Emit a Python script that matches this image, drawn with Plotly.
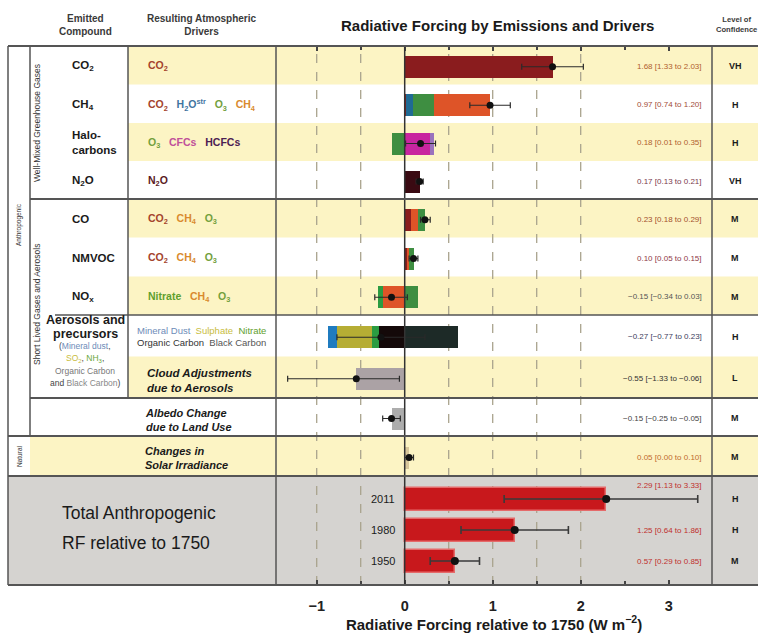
import plotly.graph_objects as go

# ---------------- data ----------------
row_names = ["CO2", "CH4", "Halocarbons", "N2O", "CO", "NMVOC", "NOx",
             "Aerosols and precursors", "Cloud adjustments", "Albedo change", "Solar irradiance"]

# drivers of each row, in left-to-right stacking order, with their forcing (W m-2)
stack_drivers = [
    ["CO2"],
    ["CO2", "H2Ostr", "O3", "CH4"],
    ["O3", "CFCs", "HCFCs"],
    ["N2O"],
    ["CO2", "CH4", "O3"],
    ["CO2", "CH4", "O3"],
    ["Nitrate", "CH4", "O3"],
    ["Mineral Dust", "Sulphate", "Nitrate", "Organic Carbon", "Black Carbon"],
    ["Cloud"],
    ["Albedo"],
    ["Solar"],
]
stack_values = [
    [1.68],
    [0.02, 0.07, 0.24, 0.64],
    [-0.15, 0.29, 0.04],
    [0.17],
    [0.07, 0.08, 0.08],
    [0.03, 0.02, 0.05],
    [-0.05, -0.25, 0.15],
    [-0.10, -0.40, -0.08, -0.29, 0.60],
    [-0.55],
    [-0.15],
    [0.05],
]
best_rf = [1.68, 0.97, 0.18, 0.17, 0.23, 0.10, -0.15, -0.27, -0.55, -0.15, 0.05]
low_rf = [1.33, 0.74, 0.01, 0.13, 0.18, 0.05, -0.34, -0.77, -1.33, -0.25, 0.00]
high_rf = [2.03, 1.20, 0.35, 0.21, 0.29, 0.15, 0.03, 0.23, -0.06, -0.05, 0.10]
confidence = ["VH", "H", "H", "VH", "M", "M", "M", "H", "L", "M", "M"]

total_years = ["2011", "1980", "1950"]
total_best = [2.29, 1.25, 0.57]
total_low = [1.13, 0.64, 0.29]
total_high = [3.33, 1.86, 0.85]
total_conf = ["H", "H", "M"]

x_tick_vals = [-1, 0, 1, 2, 3]
x_tick_text = ["\u22121", "0", "1", "2", "3"]
dashed_vals = [-1, -0.5, 0.5, 1, 1.5, 2]

# ---------------- styles ----------------
FONT = "Liberation Sans, Arial, sans-serif"
W, H = 758, 635
bar_color = {
    "CO2": "#8a1c1e", "H2Ostr": "#1f6a94", "O3": "#3e8e41", "CH4": "#de5428",
    "CFCs": "#c8259f", "HCFCs": "#9a72bd", "N2O": "#3a0a12",
    "Mineral Dust": "#1f7bbf", "Sulphate": "#b6ad34", "Nitrate": "#2b9c42",
    "Organic Carbon": "#140909", "Black Carbon": "#1d2a27",
    "Cloud": "#aba2a5", "Albedo": "#adadad", "Solar": "#d8c79c",
}
text_color = {
    "CO2": "#a4432c", "H2Ostr": "#3f74a0", "O3": "#73a03c", "CH4": "#d98a2e",
    "CFCs": "#c0509a", "HCFCs": "#4c2052", "N2O": "#5a1a22",
    "Nitrate": "#5fa02e", "Mineral Dust": "#6d8bb8", "Sulphate": "#c9bd3e",
    "Organic Carbon": "#333333", "Black Carbon": "#555555",
}
driver_html = {
    "CO2": "CO<sub>2</sub>", "H2Ostr": "H<sub>2</sub>O<sup>str</sup>", "O3": "O<sub>3</sub>",
    "CH4": "CH<sub>4</sub>", "CFCs": "CFCs", "HCFCs": "HCFCs", "N2O": "N<sub>2</sub>O",
    "Nitrate": "Nitrate", "Mineral Dust": "Mineral Dust", "Sulphate": "Sulphate",
    "Organic Carbon": "Organic Carbon", "Black Carbon": "Black Carbon",
}
value_color = ["#b0602c", "#a24c38", "#b0602c", "#7a3a4c", "#a4502c", "#8e3a48", "#555555",
               "#3c3c5c", "#333333", "#444444", "#c06a2c"]
YELLOW = "#fcf4c4"
GREY = "#d5d3d0"
LINE = "#555555"

# ---------------- geometry (pixels) ----------------
TOP, BOT = 46, 585
CH_L, CH_R = 276, 712
X0_PX, PX_PER_UNIT = 404.7, 88.0
row_edges = [46, 84.5, 123, 161, 199, 237.5, 276.5, 315, 356.5, 398, 436, 476]
row_mid = [(a + b) / 2 for a, b in zip(row_edges[:-1], row_edges[1:])]
bar_y = [m + 1.5 for m in row_mid]
total_y = [499, 530, 561]
BAR_W = 22


def px(x):
    return x / W


def py(y):
    return 1 - y / H


fig = go.Figure()

# stacked driver bars
segs = {}
for yv, drivers, vals in zip(bar_y, stack_drivers, stack_values):
    start = sum(v for v in vals if v < 0)
    for d, v in zip(drivers, vals):
        s = segs.setdefault(d, {"y": [], "x": [], "base": []})
        s["y"].append(yv)
        s["x"].append(abs(v))
        s["base"].append(start)
        start += abs(v)
for d, s in segs.items():
    fig.add_trace(go.Bar(orientation="h", y=s["y"], x=s["x"], base=s["base"], width=BAR_W,
                         marker=dict(color=bar_color[d], line=dict(width=0)),
                         name=d, showlegend=False, hoverinfo="skip"))

# total anthropogenic bars
fig.add_trace(go.Bar(orientation="h", y=total_y, x=total_best, base=[0] * len(total_best),
                     width=BAR_W + 1,
                     marker=dict(color="#c8181c", line=dict(width=1.5, color="#e56a6a")),
                     showlegend=False, hoverinfo="skip"))

# uncertainty ranges
fig.add_trace(go.Scatter(
    x=best_rf, y=bar_y, mode="markers",
    marker=dict(color="#111111", size=7),
    error_x=dict(type="data", symmetric=False,
                 array=[h - b for h, b in zip(high_rf, best_rf)],
                 arrayminus=[b - l for b, l in zip(best_rf, low_rf)],
                 color="#2a2a2a", thickness=1.2, width=3),
    showlegend=False, hoverinfo="skip"))
fig.add_trace(go.Scatter(
    x=total_best, y=total_y, mode="markers",
    marker=dict(color="#111111", size=8),
    error_x=dict(type="data", symmetric=False,
                 array=[h - b for h, b in zip(total_high, total_best)],
                 arrayminus=[b - l for b, l in zip(total_best, total_low)],
                 color="#3a3a3a", thickness=1.6, width=4),
    showlegend=False, hoverinfo="skip"))

shapes = []


def rect(x0, y0, x1, y1, color):
    shapes.append(dict(type="rect", xref="paper", yref="paper", x0=px(x0), x1=px(x1),
                       y0=py(y0), y1=py(y1), fillcolor=color, line=dict(width=0), layer="below"))


def hline(y, x0, x1, width=2, color=LINE):
    shapes.append(dict(type="line", xref="paper", yref="paper", x0=px(x0), x1=px(x1),
                       y0=py(y), y1=py(y), line=dict(color=color, width=width), layer="above"))


def vline(x, y0, y1, width=2, color=LINE):
    shapes.append(dict(type="line", xref="paper", yref="paper", x0=px(x), x1=px(x),
                       y0=py(y0), y1=py(y1), line=dict(color=color, width=width), layer="above"))


# background bands
for i in [0, 2, 4, 6, 8]:
    rect(128, row_edges[i], W, row_edges[i + 1], YELLOW)
rect(30, row_edges[10], W, row_edges[11], YELLOW)
rect(8, 476, W, BOT, GREY)

# dashed reference lines
for v in dashed_vals:
    shapes.append(dict(type="line", xref="x", yref="paper", x0=v, x1=v,
                       y0=py(BOT), y1=py(TOP), line=dict(color="#aaa48e", width=1.3, dash="dash"),
                       layer="below"))
# zero line
shapes.append(dict(type="line", xref="x", yref="paper", x0=0, x1=0, y0=py(BOT), y1=py(TOP),
                   line=dict(color="#333333", width=1.5), layer="above"))

# table lines
hline(TOP, 8, W, 2.2)
hline(199, 30, W)
hline(315, 55, W, 1.5)
hline(398, 30, W)
hline(436, 8, W)
hline(476, 8, W, 2.2)
hline(BOT, 8, W, 2.2)
vline(8, TOP, BOT, 1.5)
vline(30, TOP, 436, 1.5)
vline(128, TOP, 398, 1.5)
vline(CH_L, TOP, BOT, 1.5)
vline(CH_R, TOP, BOT, 1.5)

annotations = []


def ann(text, x, y, size=9, color="#222222", xanchor="center", angle=0, align="center", **kw):
    annotations.append(dict(text=text, x=px(x), y=py(y), xref="paper", yref="paper",
                            showarrow=False, xanchor=xanchor, yanchor="middle", textangle=angle,
                            align=align, font=dict(size=size, color=color, family=FONT), **kw))


# headers
ann("<b>Emitted<br>Compound</b>", 85, 25, 10, "#3a3a3a")
ann("<b>Resulting Atmospheric<br>Drivers</b>", 202, 25, 10, "#3a3a3a")
ann("<b>Radiative Forcing by Emissions and Drivers</b>", 497, 25, 15, "#1a1a1a")
ann("<b>Level of<br>Confidence</b>", 714, 24, 7.6, "#3a3a3a", xanchor="left")

# vertical group labels
ann("Anthropogenic", 19, 225, 6.5, "#333333", angle=-90)
ann("Well-Mixed Greenhouse Gases", 37, 123, 8.5, "#333333", angle=-90)
ann("Short Lived Gases and Aerosols", 37, 305, 8.5, "#333333", angle=-90)
ann("Natural", 19, 456, 6.5, "#333333", angle=-90)

# emitted compounds
compound_html = ["CO<sub>2</sub>", "CH<sub>4</sub>", "Halo-<br>carbons", "N<sub>2</sub>O",
                 "CO", "NMVOC", "NO<sub>x</sub>"]
for i, t in enumerate(compound_html):
    ann(f"<b>{t}</b>", 70, row_mid[i] + 1, 11.5, "#1a1a1a", xanchor="left", align="left")
ann("<b>Aerosols and</b>", 85, 320, 12.5, "#1a1a1a")
ann("<b>precursors</b>", 85, 334, 12.5, "#1a1a1a")
ann("(<span style='color:#6d8bb8'>Mineral dust</span>,", 85, 346, 8.5, "#444444")
ann("<span style='color:#c9bd3e'>SO<sub>2</sub></span>, <span style='color:#6aa83a'>NH<sub>3</sub></span>,",
    85, 358, 8.5, "#444444")
ann("<span style='color:#777777'>Organic Carbon</span>", 85, 371, 8.5)
ann("and <span style='color:#888888'>Black Carbon</span>)", 85, 383, 8.5, "#444444")

# driver text
SP = "\u00a0\u00a0\u00a0"
for i in range(7):
    parts = [f"<span style='color:{text_color[d]}'>{driver_html[d]}</span>" for d in stack_drivers[i]]
    ann("<b>" + SP.join(parts) + "</b>", 146, row_mid[i] + 1, 10.5, xanchor="left", align="left")
aer = stack_drivers[7]
line1 = "\u00a0\u00a0".join(f"<span style='color:{text_color[d]}'>{driver_html[d]}</span>" for d in aer[:3])
line2 = "\u00a0\u00a0".join(f"<span style='color:{text_color[d]}'>{driver_html[d]}</span>" for d in aer[3:])
ann(line1, 135, 330, 9.5, xanchor="left", align="left")
ann(line2, 135, 343, 9.5, xanchor="left", align="left")
ann("<b><i>Cloud Adjustments<br>due to Aerosols</i></b>", 145, 380, 11.5, "#1a1a1a", xanchor="left", align="left")
ann("<b><i>Albedo Change<br>due to Land Use</i></b>", 143, 420, 11, "#1a1a1a", xanchor="left", align="left")
ann("<b><i>Changes in<br>Solar Irradiance</i></b>", 143, 458, 11, "#1a1a1a", xanchor="left", align="left")

# totals
ann("Total Anthropogenic", 60, 513, 17.5, "#1a1a1a", xanchor="left")
ann("RF relative to 1750", 60, 543, 17.5, "#1a1a1a", xanchor="left")
for yv, yr in zip(total_y, total_years):
    ann(yr, 397, yv, 11, "#1a1a1a", xanchor="right")


def fmt(v):
    s = f"{v:.2f}"
    return s.replace("-", "\u2212")


# value labels and confidence
for i in range(len(best_rf)):
    ann(f"{fmt(best_rf[i])} [{fmt(low_rf[i])} to {fmt(high_rf[i])}]", 704, row_mid[i] + 1, 8,
        value_color[i], xanchor="right")
    ann(f"<b>{confidence[i]}</b>", 735, row_mid[i] + 1, 9, "#1a1a1a")
total_label_y = [485, 530, 561]
for i in range(len(total_best)):
    ann(f"{fmt(total_best[i])} [{fmt(total_low[i])} to {fmt(total_high[i])}]", 704, total_label_y[i],
        8, "#c0302c", xanchor="right")
    ann(f"<b>{total_conf[i]}</b>", 735, total_y[i], 9, "#1a1a1a")

fig.update_layout(
    width=W, height=H, autosize=False,
    margin=dict(l=0, r=0, t=0, b=0),
    paper_bgcolor="white", plot_bgcolor="rgba(0,0,0,0)",
    barmode="overlay", bargap=0,
    shapes=shapes, annotations=annotations,
    font=dict(family=FONT),
    xaxis=dict(domain=[px(CH_L), px(CH_R)],
               range=[(CH_L - X0_PX) / PX_PER_UNIT, (CH_R - X0_PX) / PX_PER_UNIT],
               tickvals=x_tick_vals, ticktext=[f"<b>{t}</b>" for t in x_tick_text],
               tickfont=dict(size=14.5, color="#222222", family=FONT),
               ticks="inside", ticklen=5, tickwidth=1.5, tickcolor="#444444",
               mirror="ticks", showline=False, showgrid=False, zeroline=False,
               minor=dict(dtick=0.5, ticks="inside", ticklen=4, tickcolor="#444444", showgrid=False),
               ticklabelstandoff=10,
               title=dict(text="<b>Radiative Forcing relative to 1750 (W m<sup>\u22122</sup>)</b>",
                          font=dict(size=15, color="#1a1a1a", family=FONT), standoff=6)),
    yaxis=dict(domain=[py(BOT), py(TOP)], range=[BOT, TOP], showticklabels=False,
               showgrid=False, zeroline=False, ticks=""),
)

fig.write_html("out.html", config={"displayModeBar": False},
               post_script="document.body.style.margin='0px';")
